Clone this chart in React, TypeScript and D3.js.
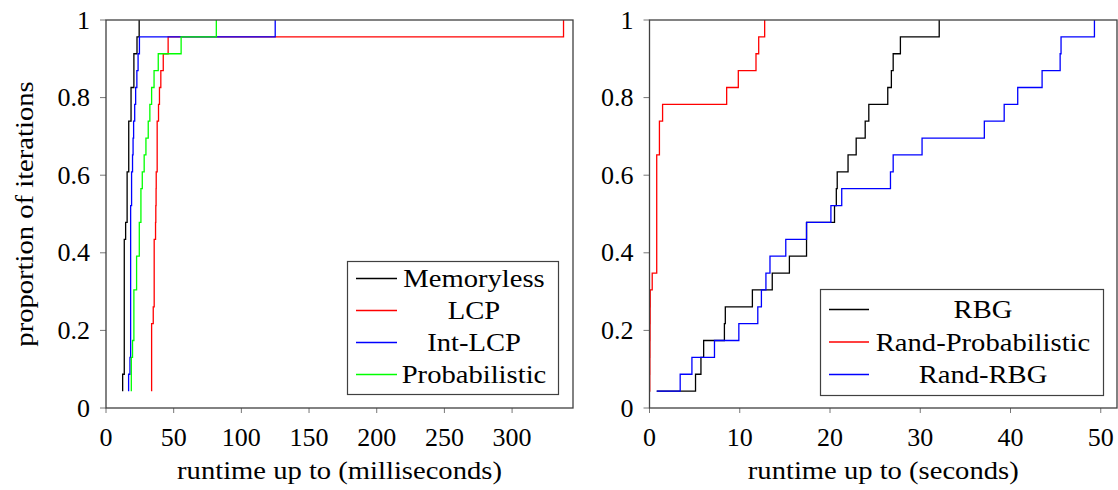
import React from "react";
import * as d3 from "d3";

// ---------- data (ECDF sample times, 23 iterations each) ----------
const N = 23;
// left panel: runtime in milliseconds
const memoryless = [12.3, 12.3, 13.5, 13.5, 13.5, 13.5, 13.5, 13.5, 13.5, 13.5, 14.5, 15.6, 15.6, 15.6, 16.8, 16.8, 16.8, 18.5, 18.5, 20.6, 20.6, 22.9, 24.5];
const lcp = [33.7, 33.7, 33.7, 33.7, 33.7, 34.9, 35.6, 35.6, 35.6, 35.6, 36.6, 36.8, 37.0, 37.1, 37.8, 37.8, 37.8, 38.8, 39.5, 40.5, 42.3, 45.9, 338];
const intLcp = [16.7, 16.7, 17.7, 18.2, 18.2, 18.2, 18.2, 18.2, 18.2, 18.2, 18.2, 18.2, 18.9, 18.9, 19.6, 20.0, 20.4, 21.2, 21.9, 22.8, 23.7, 24.7, 125];
const probabilistic = [18.7, 18.7, 18.7, 19.6, 20.6, 20.6, 20.6, 22.6, 22.6, 24.6, 24.6, 25.8, 25.8, 26.8, 28.2, 29.5, 31.2, 32.4, 33.7, 35.5, 38.6, 55.5, 81.5];
// right panel: runtime in seconds
const rbg = [0.8, 5.1, 5.7, 6.0, 8.3, 8.4, 11.4, 13.6, 15.5, 17.4, 17.4, 20.5, 20.7, 20.8, 22.0, 22.9, 23.9, 24.3, 26.4, 26.8, 27.0, 27.8, 32.1];
const randProbabilistic = [0.02, 0.03, 0.04, 0.05, 0.06, 0.07, 0.08, 0.3, 0.8, 0.8, 0.8, 0.8, 0.8, 0.8, 0.8, 1.1, 1.1, 1.45, 8.55, 9.84, 11.8, 12.1, 12.76];
const randRbg = [0.8, 3.4, 4.7, 7.2, 9.9, 12.0, 12.4, 12.9, 13.35, 15.1, 17.4, 20.1, 21.3, 26.7, 27.0, 30.2, 37.1, 39.3, 40.8, 43.5, 45.5, 45.6, 49.3];

const leftSeries = [
  { name: "Memoryless", values: memoryless, color: "#000000" },
  { name: "LCP", values: lcp, color: "#ff0000" },
  { name: "Int-LCP", values: intLcp, color: "#0000ff" },
  { name: "Probabilistic", values: probabilistic, color: "#00ff00" },
];
const rightSeries = [
  { name: "RBG", values: rbg, color: "#000000" },
  { name: "Rand-Probabilistic", values: randProbabilistic, color: "#ff0000" },
  { name: "Rand-RBG", values: randRbg, color: "#0000ff" },
];

const yTicks = [0, 0.2, 0.4, 0.6, 0.8, 1];
const yTickLabels = ["0", "0.2", "0.4", "0.6", "0.8", "1"];
const leftXTicks = [0, 50, 100, 150, 200, 250, 300];
const rightXTicks = [0, 10, 20, 30, 40, 50];

const leftXLabel = "runtime up to (milliseconds)";
const rightXLabel = "runtime up to (seconds)";
const yLabel = "proportion of iterations";

// ---------- layout ----------
const W = 1118;
const H = 490;
const TOP = 20;
const BOTTOM = 408;
const FONT = "'Liberation Serif', 'Times New Roman', serif";
const FS = 26;
const STRETCH = 1.1;

const yScale = d3.scaleLinear().domain([0, 1]).range([BOTTOM, TOP]);

type Series = { name: string; values: number[]; color: string };

function Word({ x, y, text, anchor = "middle", rotate = 0 }: { x: number; y: number; text: string; anchor?: string; rotate?: number }) {
  return (
    <text
      transform={`translate(${x},${y}) rotate(${rotate}) scale(${STRETCH},1)`}
      textAnchor={anchor}
      fontFamily={FONT}
      fontSize={FS}
      fill="#000"
    >
      {text}
    </text>
  );
}

function Panel({
  x0, x1, xmax, ticks, series, xLabel, legend,
}: {
  x0: number; x1: number; xmax: number; ticks: number[]; series: Series[]; xLabel: string;
  legend: { left: number; top: number; right: number; bottom: number; firstRow: number; rowGap: number; lineX0: number; lineX1: number; textX: number };
}) {
  const xScale = d3.scaleLinear().domain([0, xmax]).range([x0, x1]);
  const line = d3
    .line<number>()
    .x((d) => xScale(d))
    .y((_, i) => yScale((i + 1) / N))
    .curve(d3.curveStepAfter);
  return (
    <g>
      {series.map((s) => (
        <path key={s.name} d={line(s.values) || ""} fill="none" stroke={s.color} strokeWidth={1.3} />
      ))}
      {/* ticks */}
      {ticks.map((t) => (
        <line key={"xt" + t} x1={xScale(t)} x2={xScale(t)} y1={BOTTOM} y2={BOTTOM + 5} stroke="#777" strokeWidth={1} />
      ))}
      {yTicks.map((t) => (
        <line key={"yt" + t} x1={x0 - 6} x2={x0} y1={yScale(t)} y2={yScale(t)} stroke="#777" strokeWidth={1} />
      ))}
      {/* frame */}
      <rect x={x0} y={TOP} width={x1 - x0} height={BOTTOM - TOP} fill="none" stroke="#404040" strokeWidth={1.3} />
      {/* tick labels */}
      {ticks.map((t) => (
        <text key={"xl" + t} x={xScale(t)} y={446} textAnchor="middle" fontFamily={FONT} fontSize={FS} fill="#000">
          {String(t)}
        </text>
      ))}
      {yTicks.map((t, i) => (
        <text key={"yl" + t} x={x0 - 16} y={yScale(t) + 8.5} textAnchor="end" fontFamily={FONT} fontSize={FS} fill="#000">
          {yTickLabels[i]}
        </text>
      ))}
      <Word x={(x0 + x1) / 2} y={479} text={xLabel} />
      {/* legend */}
      <rect
        x={legend.left}
        y={legend.top}
        width={legend.right - legend.left}
        height={legend.bottom - legend.top}
        fill="#fff"
        stroke="#404040"
        strokeWidth={1.2}
      />
      {series.map((s, i) => {
        const ry = legend.firstRow + i * legend.rowGap;
        return (
          <g key={"lg" + s.name}>
            <line x1={legend.lineX0} x2={legend.lineX1} y1={ry} y2={ry} stroke={s.color} strokeWidth={1.3} />
            <Word x={legend.textX} y={ry + 8.5} text={s.name} />
          </g>
        );
      })}
    </g>
  );
}

export default function App() {
  return (
    <svg
      width={W}
      height={H}
      viewBox={`0 0 ${W} ${H}`}
      style={{ position: "absolute", left: 0, top: 0, background: "#fff" }}
    >
      <rect x={0} y={0} width={W} height={H} fill="#fff" />
      <Panel
        x0={106}
        x1={573}
        xmax={345}
        ticks={leftXTicks}
        series={leftSeries}
        xLabel={leftXLabel}
        legend={{ left: 347.5, top: 261.5, right: 558.5, bottom: 394.5, firstRow: 278.5, rowGap: 32, lineX0: 356, lineX1: 397, textX: 474 }}
      />
      <Panel
        x0={649.5}
        x1={1117}
        xmax={51.8}
        ticks={rightXTicks}
        series={rightSeries}
        xLabel={rightXLabel}
        legend={{ left: 820.5, top: 289.5, right: 1103.5, bottom: 395.5, firstRow: 309.5, rowGap: 32.5, lineX0: 829, lineX1: 869, textX: 983 }}
      />
      <Word x={33} y={(TOP + BOTTOM) / 2} text={yLabel} rotate={-90} />
    </svg>
  );
}
